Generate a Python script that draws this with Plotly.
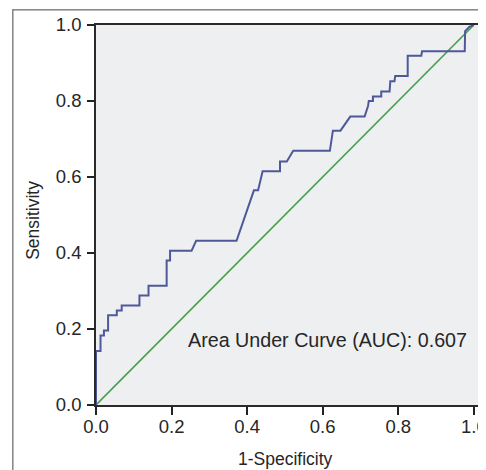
import plotly.graph_objects as go

# ROC curve points (1-Specificity, Sensitivity)
fpr = [0.0, 0.0, 0.012, 0.012, 0.021, 0.021, 0.032, 0.032, 0.055, 0.055,
       0.068, 0.068, 0.115, 0.115, 0.139, 0.139, 0.187, 0.187, 0.196, 0.196,
       0.253, 0.265, 0.372, 0.416, 0.418, 0.429, 0.441, 0.487, 0.487, 0.505,
       0.522, 0.619, 0.627, 0.647, 0.673, 0.711, 0.720, 0.722, 0.733, 0.733,
       0.755, 0.755, 0.777, 0.779, 0.790, 0.792, 0.825, 0.825, 0.861, 0.863,
       0.976, 0.977, 0.988, 1.0]
tpr = [0.0, 0.142, 0.142, 0.183, 0.183, 0.196, 0.196, 0.236, 0.236, 0.249,
       0.249, 0.262, 0.262, 0.288, 0.288, 0.314, 0.314, 0.380, 0.380, 0.406,
       0.406, 0.432, 0.432, 0.558, 0.565, 0.565, 0.615, 0.615, 0.641, 0.641,
       0.669, 0.669, 0.722, 0.722, 0.759, 0.759, 0.787, 0.800, 0.800, 0.812,
       0.812, 0.825, 0.825, 0.852, 0.852, 0.866, 0.866, 0.919, 0.919, 0.931,
       0.931, 0.984, 0.995, 1.0]

ref_x = [0.0, 1.0]
ref_y = [0.0, 1.0]

tick_vals = [0.0, 0.2, 0.4, 0.6, 0.8, 1.0]
tick_text = ["0.0", "0.2", "0.4", "0.6", "0.8", "1.0"]

auc_label = "Area Under Curve (AUC): 0.607"
x_title = "1-Specificity"
y_title = "Sensitivity"

# page body has an 8px margin, so the figure is 8px smaller than the window
OFF = 8
W, H = 486 - OFF, 470 - OFF
ML, MR, MT, MB = 96 - OFF, 4.5, 25 - OFF, 64.5
PW, PH = W - ML - MR, H - MT - MB


def px_x(p):  # window pixel -> paper x
    return (p - OFF - ML) / PW


def px_y(p):  # window pixel -> paper y
    return (H - MB - (p - OFF)) / PH


fig = go.Figure()
fig.add_trace(go.Scatter(x=ref_x, y=ref_y, mode="lines",
                         line=dict(color="#45a14e", width=1.6),
                         hoverinfo="skip", showlegend=False))
fig.add_trace(go.Scatter(x=fpr, y=tpr, mode="lines",
                         line=dict(color="#4f599a", width=2),
                         showlegend=False))

font_family = "Liberation Sans, Arial, sans-serif"
txt = "#262626"

fig.update_layout(
    width=W, height=H,
    margin=dict(l=ML, r=MR, t=MT, b=MB, pad=0),
    paper_bgcolor="white",
    plot_bgcolor="#eeeff0",
    font=dict(family=font_family, size=18, color=txt),
    xaxis=dict(range=[0, 1.019], tickvals=tick_vals, ticktext=tick_text,
               ticks="outside", ticklen=8, tickwidth=1.5, tickcolor="#222",
               showline=True, linecolor="#2a2a2a", linewidth=1.5, mirror=True,
               showgrid=False, zeroline=False, automargin=False,
               ticklabelstandoff=-4, ticklabeloverflow="allow",
               tickfont=dict(size=18.5, color=txt)),
    yaxis=dict(range=[0, 1.0], tickvals=tick_vals, ticktext=tick_text,
               ticks="outside", ticklen=7, tickwidth=1.5, tickcolor="#222",
               showline=True, linecolor="#2a2a2a", linewidth=1.5, mirror=True,
               showgrid=False, zeroline=False, automargin=False,
               ticklabelstandoff=2, ticklabeloverflow="allow",
               tickfont=dict(size=18.5, color=txt)),
    annotations=[
        dict(x=0.238, y=0.17, xref="x", yref="y", text=auc_label,
             showarrow=False, xanchor="left", yanchor="middle",
             font=dict(size=19.7, color=txt)),
        dict(x=px_x(285.5), y=px_y(460), xref="paper", yref="paper",
             text=x_title, showarrow=False, xanchor="center", yanchor="middle",
             font=dict(size=17.5, color=txt)),
        dict(x=px_x(33), y=px_y(221), xref="paper", yref="paper",
             text=y_title, showarrow=False, xanchor="center", yanchor="middle",
             textangle=-90, font=dict(size=17.5, color=txt)),
        # outer grey frame of the chart (runs off the right and bottom edges)
        dict(x=px_x(12), y=px_y(9), xref="paper", yref="paper",
             text=" ", showarrow=False, xanchor="left", yanchor="top",
             width=490, height=480, borderpad=0,
             bordercolor="#8a8a8a", borderwidth=1.6),
    ],
)

fig.write_html("out.html")
